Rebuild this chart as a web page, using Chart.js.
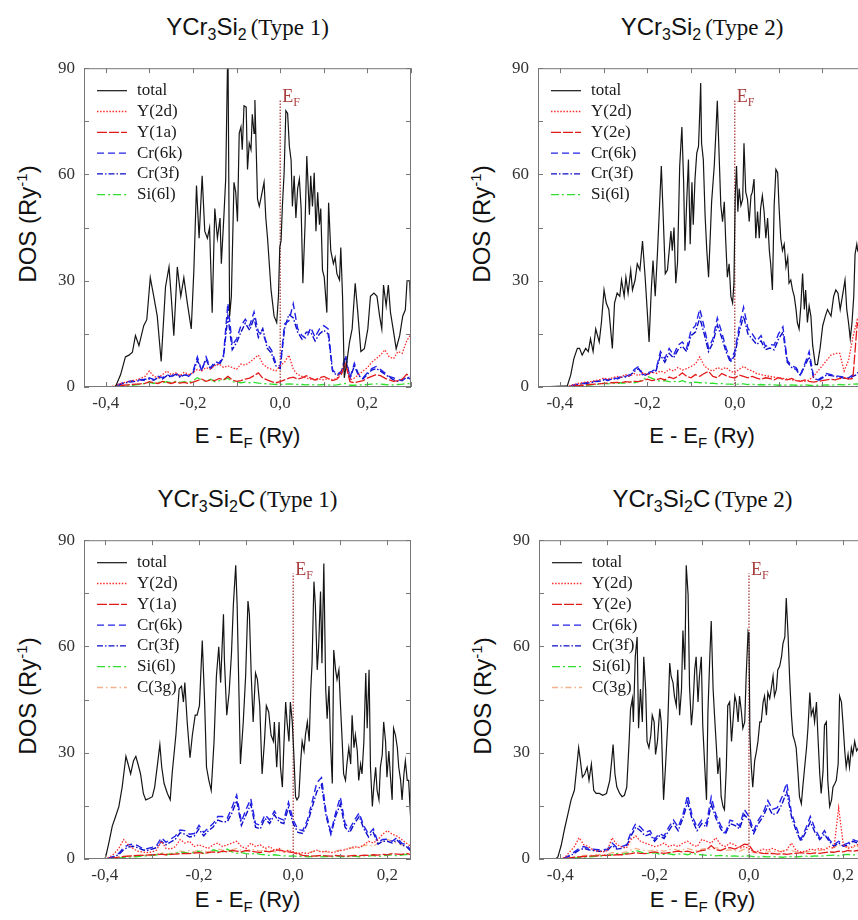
<!DOCTYPE html>
<html>
<head>
<meta charset="utf-8">
<script src="https://cdn.jsdelivr.net/npm/chart.js@4.4.0/dist/chart.umd.min.js"></script>
<style>
  body { margin: 0; width: 858px; height: 920px; overflow: hidden; background: #fff; position: relative; }
  .ttl { position: absolute; text-align: center; line-height: 30px; white-space: nowrap; color: #111; }
  .ss { font-family: "Liberation Sans", Arial, sans-serif; font-size: 24px; }
  .sf { font-family: "Liberation Serif", "Times New Roman", serif; font-size: 23px; }
  .ttl sub { font-size: 16px; line-height: 0; vertical-align: -5px; }
  .xt { position: absolute; text-align: center; white-space: nowrap; font-family: "Liberation Sans", Arial, sans-serif; font-size: 22px; line-height: 28px; color: #111; }
  .xt sub { font-size: 15px; line-height: 0; vertical-align: -5px; }
  .yt { position: absolute; width: 200px; text-align: center; white-space: nowrap; font-family: "Liberation Sans", Arial, sans-serif; font-size: 24px; line-height: 30px; color: #111; transform: rotate(-90deg); }
  .yt sup { font-size: 15px; line-height: 0; vertical-align: 9px; }
  canvas { position: absolute; }
</style>
</head>
<body>

<div class="ttl" style="left:84px;top:12px;width:327px"><span class="ss">YCr<sub>3</sub>Si<sub>2</sub></span> <span class="sf">(Type 1)</span></div>
<div class="ttl" style="left:538px;top:12px;width:328px"><span class="ss">YCr<sub>3</sub>Si<sub>2</sub></span> <span class="sf">(Type 2)</span></div>
<div class="ttl" style="left:84px;top:484px;width:327px"><span class="ss">YCr<sub>3</sub>Si<sub>2</sub>C</span> <span class="sf">(Type 1)</span></div>
<div class="ttl" style="left:539px;top:484px;width:327px"><span class="ss">YCr<sub>3</sub>Si<sub>2</sub>C</span> <span class="sf">(Type 2)</span></div>

<div class="yt" style="left:-72px;top:209px">DOS (Ry<sup>-1</sup>)</div>
<div class="yt" style="left:382px;top:209px">DOS (Ry<sup>-1</sup>)</div>
<div class="yt" style="left:-72px;top:681px">DOS (Ry<sup>-1</sup>)</div>
<div class="yt" style="left:383px;top:681px">DOS (Ry<sup>-1</sup>)</div>

<div class="xt" style="left:84px;top:422px;width:327px">E - E<sub>F</sub> (Ry)</div>
<div class="xt" style="left:538px;top:422px;width:328px">E - E<sub>F</sub> (Ry)</div>
<div class="xt" style="left:84px;top:886px;width:327px">E - E<sub>F</sub> (Ry)</div>
<div class="xt" style="left:539px;top:886px;width:327px">E - E<sub>F</sub> (Ry)</div>

<script>
// ---- axis ticks ----
const xTicksA = [-0.4, -0.3, -0.2, -0.1, 0, 0.1, 0.2, 0.3];
const xTicksB = [-0.4, -0.3, -0.2, -0.1, 0, 0.1, 0.2];
const xTickText = ['-0,4', '', '-0,2', '', '0,0', '', '0,2', ''];
const yTicks = [0, 15, 30, 45, 60, 75, 90];

// energy grids for the partial DOS curves (Ry)
const gridA = [-0.45,-0.44,-0.43,-0.42,-0.41,-0.40,-0.39,-0.38,-0.37,-0.36,
  -0.35,-0.34,-0.33,-0.32,-0.31,-0.30,-0.29,-0.28,-0.27,-0.26,
  -0.25,-0.24,-0.23,-0.22,-0.21,-0.20,-0.19,-0.18,-0.17,-0.16,
  -0.15,-0.14,-0.13,-0.12,-0.11,-0.10,-0.09,-0.08,-0.07,-0.06,
  -0.05,-0.04,-0.03,-0.02,-0.01,0.00,0.01,0.02,0.03,0.04,
  0.05,0.06,0.07,0.08,0.09,0.10,0.11,0.12,0.13,0.14,
  0.15,0.16,0.17,0.18,0.19,0.20,0.21,0.22,0.23,0.24,
  0.25,0.26,0.27,0.28,0.29,0.30];
const gridB = [-0.44,-0.43,-0.42,-0.41,-0.40,-0.39,-0.38,-0.37,-0.36,-0.35,
  -0.34,-0.33,-0.32,-0.31,-0.30,-0.29,-0.28,-0.27,-0.26,-0.25,
  -0.24,-0.23,-0.22,-0.21,-0.20,-0.19,-0.18,-0.17,-0.16,-0.15,
  -0.14,-0.13,-0.12,-0.11,-0.10,-0.09,-0.08,-0.07,-0.06,-0.05,
  -0.04,-0.03,-0.02,-0.01,0.00,0.01,0.02,0.03,0.04,0.05,
  0.06,0.07,0.08,0.09,0.10,0.11,0.12,0.13,0.14,0.15,
  0.16,0.17,0.18,0.19,0.20,0.21,0.22,0.23,0.24,0.25];

// ---- YCr3Si2 (Type 1) ----
const p1TotE = [-0.45,-0.382,-0.378,-0.366,-0.355,-0.347,-0.339,-0.332,-0.324,-0.313,
  -0.306,-0.298,-0.290,-0.282,-0.273,-0.263,-0.255,-0.250,-0.244,-0.236,
  -0.228,-0.221,-0.213,-0.204,-0.198,-0.192,-0.186,-0.179,-0.173,-0.167,
  -0.162,-0.156,-0.150,-0.144,-0.138,-0.135,-0.129,-0.125,-0.121,-0.1195,
  -0.116,-0.112,-0.106,-0.102,-0.098,-0.094,-0.090,-0.087,-0.083,-0.078,
  -0.075,-0.071,-0.067,-0.064,-0.060,-0.058,-0.055,-0.052,-0.048,-0.043,
  -0.037,-0.033,-0.029,-0.021,-0.014,-0.008,-0.004,-0.001,0.002,0.005,
  0.009,0.013,0.017,0.021,0.025,0.028,0.032,0.036,0.040,0.044,
  0.048,0.052,0.057,0.061,0.067,0.070,0.074,0.078,0.082,0.086,
  0.090,0.093,0.097,0.101,0.107,0.111,0.116,0.122,0.126,0.130,
  0.136,0.139,0.143,0.147,0.153,0.159,0.165,0.172,0.178,0.185,
  0.193,0.201,0.207,0.215,0.222,0.228,0.233,0.237,0.243,0.248,
  0.253,0.259,0.266,0.274,0.281,0.287,0.291,0.297,0.300,0.304];
const p1TotD = [0,0,0,3.5,8.5,9.0,9.8,14.5,11.7,17.3,
  19.0,30.9,25.6,20.0,7.2,28.3,33.9,25.6,14.5,33.9,
  25.6,30.9,23.7,16.4,33.0,56.9,42.0,59.6,44.0,42.0,
  45.0,21.0,50.4,42.0,47.7,34.8,48.6,58.7,90,90,
  20,25.6,57.8,55.0,46.7,71.6,73.4,67.0,79.4,79.0,
  61.4,68.8,67.0,77.0,71.6,81.0,67.0,53.0,51.0,54.0,
  57.8,47.7,42.0,27.4,20.0,18.2,25.6,39.4,41.3,51.0,
  60.5,78.0,77.2,68.0,64.0,51.0,59.6,47.7,56.0,58.7,
  50.4,29.3,45.8,65.2,48.6,59.6,51.0,60.5,44.0,55.0,
  45.8,50.4,33.0,31.0,21.0,52.0,38.5,34.8,36.6,32.0,
  30.2,39.4,25.6,2.6,7.2,12.7,16.4,29.3,21.0,10.0,
  10.8,16.4,25.6,26.5,25.6,20.0,16.4,28.8,22.9,28.8,
  21.0,16.4,10.8,14.5,20.0,21.8,30.0,30.0,20.0,17.0];
const p1Y2d = [0,0,0,0,0,0,0,0.3,0.8,1.2,
  1.5,1.8,2.0,2.4,3.0,4.5,3.0,2.6,3.5,4.5,
  3.5,4.0,3.2,4.2,3.5,4.0,5.0,4.5,5.5,5.0,
  6.0,6.5,5.5,6.0,5.5,5.0,6.5,6.2,7.0,8.0,
  9.0,6.5,5.5,5.0,4.5,6.0,7.0,9.0,5.0,3.5,
  3.0,2.5,2.2,2.0,2.2,2.0,2.4,2.0,2.4,4.5,
  7.0,2.0,2.5,3.5,4.5,5.5,7.0,8.0,9.0,10.5,
  8.5,8.0,10.0,9.5,13.0,15.0];
const p1Y1a = [0,0,0,0,0,0,0,0.1,0.3,0.5,
  0.6,0.7,0.8,0.9,1.0,1.5,1.2,1.0,1.6,1.3,
  1.0,1.4,1.1,1.3,1.0,1.4,1.8,2.2,1.6,2.0,
  1.8,2.4,2.0,3.0,2.0,1.6,1.8,2.2,2.5,3.2,
  4.0,2.5,2.0,1.5,1.2,1.5,2.0,2.5,2.8,2.2,
  2.6,3.2,2.5,2.0,2.6,3.0,2.4,1.8,2.2,3.5,
  6.5,1.5,1.2,1.5,1.8,2.5,3.0,3.5,3.2,2.5,
  2.0,1.6,1.8,2.2,3.6,3.0];
const p1Cr6k = [0,0,0,0,0,0,0,0.2,0.7,1.2,
  1.5,1.7,1.8,2.1,1.8,2.6,2.1,3.0,2.6,3.5,
  3.0,4.0,3.0,3.7,3.0,4.4,8.5,4.4,8.5,5.3,
  7.2,6.7,9.0,23.7,11.8,13.6,17.3,19.1,17.3,21.2,
  15.5,15.0,12.2,10.4,6.7,5.8,17.8,18.7,23.5,16.5,
  14.5,13.6,16.8,14.1,16.4,17.3,16.4,4.9,3.5,4.4,
  9.0,2.6,6.7,3.5,2.6,4.0,5.2,5.8,4.9,4.0,
  3.0,2.6,2.1,1.8,3.0,2.1];
const p1Cr3f = [0,0,0,0,0,0,0,0.1,0.5,1.0,
  1.3,1.5,1.6,1.9,2.2,2.3,1.9,2.7,2.3,3.2,
  2.8,3.6,2.8,3.4,3.3,4.0,7.5,5.0,7.8,5.0,
  6.5,6.2,8.5,20.0,10.5,12.5,15.5,18.0,16.0,19.5,
  14.0,16.5,11.0,9.5,6.0,5.2,16.5,20.5,19.5,15.5,
  13.5,15.5,15.5,13.0,15.0,16.0,15.0,4.5,3.2,4.0,
  8.0,2.3,6.0,3.2,2.3,3.6,4.8,5.2,4.5,3.6,
  2.8,2.0,1.6,2.0,2.7,2.0];
const p1Si = [0,0,0,0,0,0,0,0,0.2,0.3,
  0.4,0.5,0.6,0.8,1.0,1.3,1.0,1.4,1.2,1.5,
  1.2,1.6,1.3,1.5,1.3,1.8,2.6,2.0,1.6,2.2,
  1.5,1.8,2.0,2.5,1.5,1.4,1.2,1.4,1.2,1.3,
  1.1,1.0,0.9,0.8,0.7,0.7,0.8,0.9,0.8,0.7,
  0.7,0.6,0.7,0.6,0.6,0.7,0.6,0.5,0.6,0.8,
  1.0,0.5,0.5,0.6,0.6,0.7,0.8,0.9,0.8,0.7,
  0.6,0.6,0.7,0.8,1.0,0.9];

// ---- YCr3Si2 (Type 2) ----
const p2TotE = [-0.45,-0.383,-0.375,-0.368,-0.360,-0.355,-0.349,-0.341,-0.335,-0.330,
  -0.324,-0.318,-0.310,-0.305,-0.299,-0.294,-0.288,-0.280,-0.275,-0.269,
  -0.263,-0.259,-0.253,-0.249,-0.244,-0.238,-0.234,-0.228,-0.223,-0.217,
  -0.211,-0.205,-0.200,-0.196,-0.191,-0.187,-0.182,-0.177,-0.172,-0.168,
  -0.163,-0.159,-0.154,-0.150,-0.146,-0.143,-0.139,-0.135,-0.131,-0.126,
  -0.121,-0.117,-0.114,-0.110,-0.106,-0.102,-0.098,-0.095,-0.091,-0.087,
  -0.083,-0.080,-0.078,-0.076,-0.072,-0.068,-0.064,-0.060,-0.056,-0.053,
  -0.047,-0.043,-0.040,-0.036,-0.032,-0.028,-0.024,-0.021,-0.017,-0.013,
  -0.009,-0.005,-0.002,0.001,0.004,0.007,0.010,0.014,0.018,0.021,
  0.025,0.029,0.033,0.037,0.040,0.044,0.048,0.052,0.056,0.059,
  0.063,0.067,0.071,0.075,0.079,0.082,0.086,0.090,0.094,0.098,
  0.101,0.105,0.109,0.113,0.117,0.121,0.124,0.128,0.132,0.136,
  0.140,0.143,0.147,0.151,0.155,0.159,0.162,0.166,0.170,0.174,
  0.178,0.184,0.189,0.195,0.201,0.207,0.212,0.220,0.226,0.231,
  0.236,0.241,0.246,0.252,0.256,0.260,0.264,0.268,0.272,0.275,
  0.279,0.281,0.290,0.300];
const p2TotD = [0,0.3,3.5,8.0,10.9,10.9,9.0,10.9,10.0,13.6,
  10.0,16.4,12.7,18.2,27.4,23.7,21.9,10.9,23.7,26.5,
  25.6,30.2,25.6,31.0,26.5,33.0,27.4,30.2,34.8,33.0,
  41.2,31.0,21.0,12.7,27.4,35.7,25.6,37.5,51.3,62.4,
  45.8,32.0,33.0,38.5,44.0,38.5,45.0,29.3,35.0,62.4,
  73.4,57.8,38.5,52.3,64.2,40.3,57.8,45.8,58.7,66.0,
  67.9,78.0,85.8,68.8,64.2,48.6,38.5,31.0,43.0,52.3,
  62.4,72.5,80.8,66.0,51.3,46.7,52.3,42.0,31.0,34.8,
  25.6,23.7,29.3,54.0,62.4,49.5,56.0,51.3,53.0,68.8,
  55.0,53.0,46.7,54.0,55.0,58.7,42.0,49.5,42.0,50.4,
  54.0,49.5,42.0,47.7,38.5,34.8,27.4,51.3,61.4,60.5,
  51.3,42.0,38.5,40.3,33.9,36.6,29.3,30.2,27.4,25.6,
  21.9,18.2,16.4,22.9,32.0,21.9,27.4,18.2,22.9,20.0,
  11.8,6.3,6.3,10.9,17.3,20.0,21.9,20.0,25.6,27.4,
  26.5,21.9,25.6,30.2,21.9,18.2,13.6,18.2,25.6,37.5,
  40.3,38.5,36.0,31.0];
const p2Y2d = [0,0,0,0,0,0,0,0.2,0.6,1.0,
  1.2,1.4,1.5,1.8,2.0,2.5,2.2,2.6,3.0,2.8,
  3.5,3.0,3.8,3.2,4.0,3.5,4.2,3.8,4.5,4.0,
  5.0,4.5,5.5,4.8,5.2,5.8,6.5,8.5,6.0,5.0,
  4.5,5.5,5.0,5.5,4.5,4.0,5.0,5.8,5.0,4.5,
  3.8,3.5,3.2,3.0,2.8,2.6,2.4,2.2,2.0,1.8,
  1.8,1.6,2.0,3.0,4.5,6.0,7.5,9.0,9.5,9.5,
  4.5,7.5,14.0,19.0,17.0,15.0];
const p2Y2e = [0,0,0,0,0,0,0,0.1,0.3,0.4,
  0.5,0.6,0.7,0.8,0.9,1.0,1.1,1.2,1.3,1.2,
  1.5,1.4,1.6,1.5,1.8,2.2,1.8,2.0,2.4,2.0,
  2.8,2.4,3.0,4.0,3.0,2.6,3.5,3.0,3.8,4.4,
  3.0,2.6,3.8,3.2,2.8,2.5,3.4,3.0,2.6,3.0,
  2.5,2.2,2.6,2.4,2.0,2.6,2.2,2.0,2.4,1.8,
  1.6,2.0,1.6,1.4,1.6,1.8,2.0,2.2,2.0,2.4,
  2.6,2.2,2.4,18.0,16.0,13.0];
const p2Cr6k = [0,0,0,0,0,0,0,0.2,0.5,0.8,
  1.0,1.2,1.4,1.6,1.8,2.2,2.0,2.6,2.4,3.0,
  3.0,3.5,4.9,5.8,3.5,4.0,4.4,5.0,10.0,8.0,
  10.9,9.0,11.8,12.7,11.0,16.0,17.3,22.0,17.0,11.0,
  13.6,19.5,15.5,11.0,7.5,10.0,17.0,22.5,16.5,15.0,
  13.0,14.5,11.5,12.0,11.8,15.0,17.0,7.5,6.0,5.5,
  3.5,6.5,10.0,3.0,2.0,2.8,3.8,3.5,3.2,3.0,
  2.8,2.6,3.4,4.0,3.8,3.5];
const p2Cr3f = [0,0,0,0,0,0,0,0.1,0.4,0.7,
  0.9,1.0,1.2,1.5,1.6,2.0,1.8,2.4,2.2,2.8,
  2.8,3.2,4.4,5.2,3.2,3.6,4.0,4.6,9.0,7.0,
  9.5,8.2,10.5,11.5,10.0,14.5,15.5,19.5,15.0,10.0,
  12.5,17.5,14.0,10.0,7.0,9.0,15.5,20.0,15.0,13.5,
  12.0,13.0,10.5,11.0,10.5,13.5,15.5,7.0,5.5,5.0,
  3.2,6.0,8.5,2.7,1.8,2.5,3.4,3.2,3.0,2.7,
  2.5,2.4,3.0,3.6,3.4,3.2];
const p2Si = [0,0,0,0,0,0,0,0,0.2,0.3,
  0.4,0.5,0.6,0.7,0.8,1.0,0.9,1.1,1.0,1.2,
  1.1,1.3,1.2,1.5,2.0,3.0,2.5,2.0,1.6,1.8,
  1.5,1.6,1.4,1.8,1.3,1.2,1.4,1.2,1.3,1.0,
  1.1,0.9,1.0,0.8,0.8,0.7,0.8,0.9,0.7,0.8,
  0.6,0.7,0.6,0.7,0.6,0.5,0.6,0.5,0.6,0.5,
  0.5,0.6,0.5,0.4,0.5,0.5,0.6,0.5,0.6,0.7,
  0.6,0.7,0.8,0.9,0.8,0.8];

// ---- YCr3Si2C (Type 1) ----
const p3TotE = [-0.444,-0.400,-0.398,-0.391,-0.384,-0.377,-0.370,-0.363,-0.355,-0.350,
  -0.345,-0.339,-0.334,-0.329,-0.324,-0.318,-0.313,-0.306,-0.299,-0.294,
  -0.288,-0.283,-0.279,-0.274,-0.267,-0.261,-0.257,-0.249,-0.242,-0.237,
  -0.233,-0.230,-0.225,-0.219,-0.214,-0.208,-0.204,-0.199,-0.193,-0.188,
  -0.184,-0.179,-0.174,-0.168,-0.163,-0.158,-0.154,-0.148,-0.146,-0.141,
  -0.136,-0.131,-0.127,-0.122,-0.119,-0.115,-0.112,-0.106,-0.101,-0.096,
  -0.093,-0.089,-0.085,-0.080,-0.076,-0.071,-0.066,-0.061,-0.057,-0.052,
  -0.047,-0.042,-0.040,-0.035,-0.030,-0.027,-0.023,-0.020,-0.016,-0.013,
  -0.009,-0.006,-0.002,0.001,0.005,0.008,0.012,0.016,0.019,0.023,
  0.026,0.030,0.034,0.037,0.040,0.044,0.047,0.051,0.054,0.058,
  0.061,0.065,0.069,0.072,0.076,0.079,0.083,0.086,0.090,0.093,
  0.097,0.100,0.104,0.107,0.111,0.114,0.118,0.122,0.125,0.129,
  0.132,0.136,0.139,0.143,0.146,0.150,0.154,0.157,0.161,0.164,
  0.168,0.171,0.175,0.178,0.182,0.185,0.189,0.192,0.196,0.199,
  0.203,0.206,0.210,0.213,0.217,0.221,0.224,0.228,0.231,0.235,
  0.238,0.242,0.245,0.249,0.260];
const p3TotD = [0,0,0.6,4.7,9.3,12.0,14.8,20.3,29.0,26.6,
  24.0,27.7,29.0,26.6,24.0,18.5,16.7,17.1,17.6,20.3,
  26.8,32.3,25.9,21.3,18.5,16.7,24.0,35.0,48.0,48.8,
  44.3,49.8,38.7,28.6,35.0,40.6,40.6,43.3,61.7,44.3,
  25.9,22.2,19.4,33.2,51.6,59.9,49.8,69.1,56.2,40.6,
  47.0,58.0,71.8,82.9,71.8,46.0,26.8,38.7,51.6,72.8,
  69.1,51.6,38.7,52.5,50.7,43.3,24.0,33.2,43.3,41.5,
  35.0,33.2,38.7,25.9,38.7,25.9,20.3,31.4,44.3,38.7,
  33.2,44.3,38.7,30.5,17.6,16.7,17.6,27.7,33.2,30.5,
  35.0,38.7,33.2,47.0,55.3,78.3,71.8,53.4,59.9,75.5,
  55.3,83.4,47.9,39.6,48.8,33.2,21.3,59.0,53.4,50.7,
  53.4,44.3,33.2,24.0,22.2,26.8,31.4,26.8,40.6,31.4,
  35.0,30.5,22.2,26.8,24.0,33.2,52.5,36.9,53.4,25.9,
  14.8,20.3,25.9,19.4,16.7,25.9,29.5,38.7,33.2,23.1,
  30.5,24.0,16.7,36.9,35.0,31.4,25.9,22.2,16.7,24.0,
  27.7,22.2,22.2,12.0,10.0];
const p3Y2d = [0,0,0,0,0,0.5,1.5,3.0,5.5,4.0,
  3.0,2.2,2.0,1.8,2.0,2.5,5.0,3.0,2.8,3.5,
  5.5,4.5,5.0,3.5,4.0,3.5,3.0,4.0,4.5,3.5,
  4.0,4.5,5.0,3.5,3.0,4.5,3.5,4.0,3.0,3.5,
  2.5,3.0,2.0,2.5,2.0,1.6,1.8,1.5,2.0,2.5,
  2.0,2.2,1.8,2.0,2.4,2.6,3.0,3.5,3.2,4.0,
  5.0,4.5,5.5,7.0,8.0,7.0,6.5,5.5,4.5,3.5];
const p3Y1a = [0,0,0,0,0,0.1,0.3,0.5,0.7,0.8,
  0.9,1.0,1.0,1.1,1.2,1.2,1.4,1.2,1.3,1.4,
  1.5,1.6,1.5,1.7,1.8,1.6,1.8,2.0,1.8,2.2,
  2.0,2.4,2.2,2.0,2.4,2.2,2.0,1.8,2.2,2.0,
  2.4,2.6,2.2,2.0,1.8,1.4,1.0,0.9,0.8,0.9,
  1.0,0.9,0.8,1.0,0.9,0.8,0.9,1.0,0.9,1.1,
  1.0,1.2,1.1,1.3,1.2,1.5,1.4,1.3,1.6,1.2];
const p3Cr6k = [0,0,0,0,0,0.3,0.8,1.6,3.2,4.0,
  4.2,3.8,3.0,2.9,3.3,3.8,6.0,4.7,5.6,6.5,
  8.2,8.0,7.0,7.2,9.5,7.5,8.8,10.0,12.0,12.0,
  11.5,14.5,18.0,10.5,14.0,17.0,10.0,9.5,12.5,11.0,
  13.5,11.5,11.0,16.0,11.0,8.4,8.0,11.0,16.0,21.5,
  23.0,13.0,7.5,13.0,17.5,10.0,8.5,11.0,13.0,9.3,
  7.0,8.5,4.7,5.5,5.6,5.0,6.0,4.5,4.0,2.5];
const p3Cr3f = [0,0,0,0,0,0.2,0.6,1.3,2.6,3.4,
  3.6,3.2,2.6,2.4,2.8,3.2,5.0,4.0,4.8,5.6,
  7.4,7.0,6.2,6.5,8.5,6.5,8.0,9.0,11.0,10.5,
  10.5,13.0,16.5,9.5,12.5,15.5,9.0,8.5,11.5,10.0,
  12.5,10.5,10.0,14.5,10.0,7.5,7.2,10.0,14.5,19.0,
  21.0,12.0,7.0,12.0,15.5,9.0,7.5,10.0,12.0,8.5,
  6.2,7.5,4.2,5.0,5.0,4.5,5.4,4.0,3.5,2.2];
const p3Si = [0,0,0,0,0,0,0.2,0.3,0.4,0.5,
  0.6,0.7,0.8,0.9,1.0,1.2,1.5,1.2,1.4,1.6,
  2.0,1.8,1.6,1.8,2.2,1.5,1.8,2.6,2.2,2.0,
  2.8,2.0,1.6,1.8,1.5,1.4,1.6,1.3,1.2,1.0,
  1.2,1.0,0.9,0.8,0.9,0.7,0.8,0.6,0.7,0.8,
  0.6,0.7,0.6,0.8,0.7,0.6,0.7,0.8,0.6,0.9,
  0.8,1.0,0.7,0.9,1.0,1.2,0.9,1.1,1.3,1.0];
const p3C3g = [0,0,0,0,0,0,0.2,0.4,0.6,0.8,
  0.9,1.0,1.0,1.1,1.2,1.3,1.8,1.5,1.6,1.8,
  2.2,2.0,2.4,2.0,2.6,2.2,2.0,2.4,2.8,2.5,
  2.2,2.6,3.0,2.4,2.2,2.8,2.5,2.2,2.6,2.4,
  2.0,2.2,1.8,2.4,2.0,1.6,1.4,1.8,2.0,2.4,
  2.2,2.0,1.8,2.2,2.5,2.8,3.2,3.0,3.5,3.8,
  4.0,3.5,4.5,5.0,5.5,5.0,4.5,4.0,3.5,3.0];

// ---- YCr3Si2C (Type 2) ----
const p4TotE = [-0.445,-0.410,-0.405,-0.398,-0.391,-0.384,-0.377,-0.370,-0.365,-0.361,
  -0.358,-0.353,-0.348,-0.343,-0.339,-0.334,-0.329,-0.324,-0.317,-0.310,
  -0.302,-0.295,-0.291,-0.288,-0.284,-0.280,-0.274,-0.269,-0.264,-0.259,
  -0.254,-0.251,-0.247,-0.245,-0.241,-0.237,-0.234,-0.230,-0.226,-0.223,
  -0.219,-0.216,-0.212,-0.208,-0.205,-0.201,-0.198,-0.194,-0.189,-0.186,
  -0.181,-0.177,-0.172,-0.168,-0.165,-0.161,-0.158,-0.154,-0.151,-0.147,
  -0.143,-0.140,-0.136,-0.133,-0.129,-0.126,-0.122,-0.119,-0.115,-0.112,
  -0.108,-0.105,-0.101,-0.098,-0.094,-0.090,-0.087,-0.083,-0.080,-0.076,
  -0.073,-0.069,-0.066,-0.062,-0.059,-0.055,-0.052,-0.048,-0.045,-0.041,
  -0.037,-0.034,-0.030,-0.027,-0.023,-0.020,-0.016,-0.013,-0.009,-0.006,
  -0.002,0.000,0.002,0.005,0.008,0.012,0.016,0.019,0.023,0.026,
  0.030,0.033,0.037,0.040,0.044,0.047,0.051,0.054,0.058,0.061,
  0.065,0.069,0.072,0.076,0.079,0.083,0.086,0.090,0.093,0.097,
  0.100,0.104,0.107,0.111,0.114,0.118,0.122,0.125,0.129,0.132,
  0.136,0.139,0.143,0.146,0.150,0.153,0.157,0.160,0.164,0.167,
  0.171,0.175,0.178,0.182,0.185,0.189,0.192,0.196,0.199,0.203,
  0.206,0.210,0.213,0.217,0.220,0.224,0.228,0.232,0.240,0.250];
const p4TotD = [0,0,0.6,3.8,8.4,12.5,16.7,19.4,25.9,31.4,
  28.5,23.1,24.0,25.9,22.2,26.8,19.4,18.5,18.5,18.0,
  18.5,22.2,27.7,32.3,24.0,20.3,18.5,17.6,18.0,20.3,
  33.2,42.4,45.3,38.7,57.1,62.7,36.9,48.0,38.7,57.1,
  48.0,33.2,31.4,35.0,40.6,38.7,29.5,33.2,42.4,38.7,
  16.7,25.9,38.7,55.3,51.6,49.8,46.0,43.3,53.4,40.6,
  47.9,64.5,53.4,82.9,74.6,48.8,37.8,42.4,53.4,57.1,
  44.3,51.6,57.1,37.8,26.8,16.7,41.5,57.1,67.2,47.9,
  40.6,31.4,24.0,28.6,17.6,14.8,13.9,25.9,43.3,44.3,
  33.2,38.7,46.0,44.3,38.7,46.0,41.5,36.9,38.7,51.6,
  64.0,62.7,35.0,25.9,20.3,27.7,30.5,33.2,38.7,38.7,
  44.3,46.0,40.6,47.0,45.3,47.9,51.6,46.0,47.9,53.4,
  54.4,57.1,60.8,62.7,73.7,62.7,51.6,40.6,35.0,33.2,
  31.4,24.0,17.6,15.6,20.3,25.9,31.4,36.9,47.0,40.6,
  42.4,38.7,44.3,35.0,24.0,18.5,24.8,37.8,38.7,22.2,
  14.8,16.7,20.3,21.3,22.2,26.8,46.0,44.3,38.7,30.5,
  25.9,29.5,25.9,31.4,29.5,33.2,30.5,31.4,33.0,28.0];
const p4Y2d = [0,0,0,0,0,0.5,2.0,3.5,6.0,4.0,
  3.5,2.5,2.2,2.0,2.4,6.0,4.0,3.5,3.0,5.5,
  6.5,5.0,4.5,4.0,3.5,3.8,4.5,3.5,4.0,3.5,
  4.5,5.0,4.0,3.5,5.5,5.0,4.5,6.0,4.0,3.5,
  4.5,4.0,3.0,3.5,3.0,2.0,2.2,2.8,2.5,3.0,
  2.4,2.0,2.6,4.5,2.4,2.0,2.2,2.8,2.5,3.0,
  2.6,3.5,3.0,14.5,4.0,3.0,3.5,4.0,4.5,5.0];
const p4Y2e = [0,0,0,0,0,0.1,0.3,0.5,0.6,0.7,
  0.8,0.9,0.9,1.0,1.0,1.1,1.2,1.2,1.4,1.5,
  1.8,1.6,1.5,1.8,2.0,1.8,1.6,1.8,2.0,2.2,
  2.0,2.2,1.8,2.0,2.4,2.6,3.8,2.6,2.4,3.0,
  3.2,2.8,3.4,4.2,4.0,2.0,1.8,1.6,1.5,1.6,
  1.4,1.5,1.3,1.5,1.6,1.8,1.6,1.5,1.7,1.6,
  1.8,2.0,1.9,2.2,2.0,2.4,2.2,2.4,2.6,2.8];
const p4Cr6k = [0,0,0,0,0.1,0.4,1.0,2.0,3.0,3.5,
  3.0,2.8,2.6,2.6,2.8,4.5,3.2,3.5,4.0,7.5,
  10.0,9.0,7.5,8.0,5.6,7.2,6.5,9.0,11.0,9.0,
  12.5,18.0,12.0,9.0,11.0,10.0,17.5,12.5,9.5,7.5,
  11.0,10.5,9.3,14.0,12.0,8.0,11.0,13.0,16.5,14.0,
  14.5,17.5,21.5,13.0,9.0,5.5,8.5,12.0,8.5,6.0,
  8.0,5.5,4.0,5.0,4.0,4.5,5.5,5.0,5.5,6.0];
const p4Cr3f = [0,0,0,0,0,0.3,0.8,1.6,2.5,3.0,
  2.6,2.4,2.2,2.2,2.4,3.8,2.8,3.0,3.5,6.5,
  9.0,8.0,6.5,7.0,5.0,6.5,5.8,8.0,10.0,8.0,
  11.5,16.0,11.0,8.0,10.0,9.0,15.5,11.5,8.5,7.0,
  10.0,9.5,8.5,12.5,11.0,7.2,10.0,12.0,15.0,12.5,
  13.0,15.5,19.0,12.0,8.0,5.0,7.5,10.5,7.5,5.5,
  7.0,5.0,3.6,4.5,3.6,4.0,5.0,4.5,5.0,5.5];
const p4Si = [0,0,0,0,0,0,0.2,0.3,0.4,0.5,
  0.6,0.7,0.8,0.9,1.0,1.2,1.5,1.3,1.6,1.9,
  2.4,2.0,1.5,1.6,1.8,1.4,1.3,1.5,1.2,1.4,
  1.5,1.2,1.6,1.3,1.2,1.0,1.1,0.9,1.0,0.9,
  0.8,0.9,0.7,0.8,0.9,0.7,0.6,0.7,0.6,0.7,
  0.6,0.5,0.6,0.7,0.6,0.7,0.8,0.7,0.9,0.8,
  0.9,1.0,1.1,0.9,1.2,1.3,1.1,1.4,1.5,1.6];
const p4C3g = [0,0,0,0,0,0,0.2,0.5,0.8,1.0,
  1.0,1.1,1.2,1.2,1.4,1.8,1.6,1.7,2.0,2.6,
  3.0,2.6,2.4,2.2,2.6,2.4,2.2,2.6,2.8,2.4,
  2.6,3.0,2.6,2.4,2.8,3.0,2.6,3.2,2.8,2.4,
  2.6,2.4,2.2,2.8,2.4,1.8,1.6,1.8,2.0,2.2,
  2.0,2.2,2.6,2.4,2.0,1.8,2.0,2.2,2.6,2.4,
  2.8,3.0,3.2,4.0,3.6,3.4,3.2,3.6,3.8,4.0];

// Fermi level marker (vertical line from 0 up to the top value)
const efE = [0, 0];
const efTopA = [0, 81];
const efTopB = [0, 80.6];

// ---- styles ----
const STY = {
  total: { color: '#151515', dash: [], width: 1.2 },
  y2d:   { color: '#ff2a2a', dash: [1.5, 1.6], width: 1.3 },
  ysol:  { color: '#e31a1a', dash: [10, 2], width: 1.3 },
  cr6k:  { color: '#2222e8', dash: [7, 4], width: 1.4 },
  cr3f:  { color: '#0c0cc8', dash: [6, 2, 1.5, 2], width: 1.4 },
  si:    { color: '#2ee02e', dash: [8, 3, 2, 3], width: 1.3 },
  c3g:   { color: '#f2b08c', dash: [6, 3, 1.5, 3], width: 1.3 },
  ef:    { color: '#a83232', dash: [1.5, 1.5], width: 1.2 }
};

function line(label, st, xs, ys) {
  return {
    label: label,
    data: xs.map((x, i) => ({ x: x, y: ys[i] })),
    borderColor: st.color,
    borderWidth: st.width,
    borderDash: st.dash,
    pointRadius: 0,
    fill: false,
    tension: 0
  };
}

// frame, inward ticks, legend inside the plot and the E_F label
const decor = {
  id: 'decor',
  afterDatasetsDraw(chart) {
    const ctx = chart.ctx, a = chart.chartArea;
    const sx = chart.scales.x, sy = chart.scales.y;
    ctx.save();
    ctx.setLineDash([]);
    ctx.strokeStyle = '#777';
    ctx.lineWidth = 1;
    ctx.strokeRect(a.left + 0.5, a.top + 0.5, a.width - 1, a.height - 1);
    ctx.beginPath();
    sx.ticks.forEach(t => {
      const px = Math.round(sx.getPixelForValue(t.value)) + 0.5;
      ctx.moveTo(px, a.bottom); ctx.lineTo(px, a.bottom - 5);
      ctx.moveTo(px, a.top); ctx.lineTo(px, a.top + 5);
    });
    sy.ticks.forEach(t => {
      const py = Math.round(sy.getPixelForValue(t.value)) + 0.5;
      ctx.moveTo(a.left, py); ctx.lineTo(a.left + 5, py);
      ctx.moveTo(a.right, py); ctx.lineTo(a.right - 5, py);
    });
    ctx.stroke();

    const items = chart.data.datasets.filter(d => !d.label.startsWith('_'));
    ctx.font = '17px "Liberation Serif"';
    ctx.textBaseline = 'middle';
    items.forEach((d, i) => {
      const yy = a.top + 22.5 + i * 20.8;
      ctx.strokeStyle = d.borderColor;
      ctx.lineWidth = d.borderWidth;
      ctx.setLineDash(d.borderDash);
      ctx.beginPath();
      ctx.moveTo(a.left + 13, yy);
      ctx.lineTo(a.left + 43, yy);
      ctx.stroke();
      ctx.fillStyle = '#1a1a1a';
      ctx.fillText(d.label, a.left + 53, yy);
    });

    const ef = chart.data.datasets.find(d => d.label === '_ef');
    const ex = sx.getPixelForValue(0) + 2;
    const ey = sy.getPixelForValue(ef.data[1].y) + 2;
    ctx.fillStyle = '#a83c3c';
    ctx.textBaseline = 'alphabetic';
    ctx.font = '18px "Liberation Serif"';
    ctx.fillText('E', ex, ey);
    const w = ctx.measureText('E').width;
    ctx.font = '12px "Liberation Serif"';
    ctx.fillText('F', ex + w, ey + 4);
    ctx.restore();
  }
};

function makePanel(p) {
  const cv = document.createElement('canvas');
  const W = 44 + p.w + 8, H = 12 + 326 + 32;
  cv.width = W; cv.height = H;
  cv.style.left = (p.left - 44) + 'px';
  cv.style.top = (p.top - 12) + 'px';
  cv.style.width = W + 'px';
  cv.style.height = H + 'px';
  document.body.appendChild(cv);

  const tickFont = { family: '"Liberation Serif"', size: 17 };
  new Chart(cv, {
    type: 'line',
    data: { datasets: p.datasets },
    options: {
      responsive: false,
      animation: false,
      events: [],
      layout: { padding: { top: 12, right: 8, left: 0, bottom: 0 } },
      plugins: { legend: { display: false }, tooltip: { enabled: false } },
      scales: {
        x: {
          type: 'linear', min: p.xMin, max: p.xMax,
          grid: { display: false, drawTicks: false },
          border: { display: false },
          afterBuildTicks: s => { s.ticks = p.xTicks.map(v => ({ value: v })); },
          afterFit: s => { s.height = 32; },
          ticks: {
            autoSkip: false, maxRotation: 0, padding: 6, color: '#333', font: tickFont,
            callback: (v, i) => xTickText[i]
          }
        },
        y: {
          type: 'linear', min: 0, max: 90,
          grid: { display: false, drawTicks: false },
          border: { display: false },
          afterBuildTicks: s => { s.ticks = yTicks.map(v => ({ value: v })); },
          afterFit: s => { s.width = 44; },
          ticks: {
            autoSkip: false, padding: 9, color: '#333', font: tickFont,
            callback: v => (v % 30 === 0 ? String(v) : '')
          }
        }
      }
    },
    plugins: [decor]
  });
}

makePanel({
  left: 84, top: 61, w: 327, xMin: -0.45, xMax: 0.30, xTicks: xTicksA,
  datasets: [
    line('total', STY.total, p1TotE, p1TotD),
    line('Y(2d)', STY.y2d, gridA, p1Y2d),
    line('Y(1a)', STY.ysol, gridA, p1Y1a),
    line('Cr(6k)', STY.cr6k, gridA, p1Cr6k),
    line('Cr(3f)', STY.cr3f, gridA, p1Cr3f),
    line('Si(6l)', STY.si, gridA, p1Si),
    line('_ef', STY.ef, efE, efTopA)
  ]
});
makePanel({
  left: 538, top: 61, w: 328, xMin: -0.45, xMax: 0.30, xTicks: xTicksA,
  datasets: [
    line('total', STY.total, p2TotE, p2TotD),
    line('Y(2d)', STY.y2d, gridA, p2Y2d),
    line('Y(2e)', STY.ysol, gridA, p2Y2e),
    line('Cr(6k)', STY.cr6k, gridA, p2Cr6k),
    line('Cr(3f)', STY.cr3f, gridA, p2Cr3f),
    line('Si(6l)', STY.si, gridA, p2Si),
    line('_ef', STY.ef, efE, efTopA)
  ]
});
makePanel({
  left: 84, top: 533, w: 327, xMin: -0.444, xMax: 0.25, xTicks: xTicksB,
  datasets: [
    line('total', STY.total, p3TotE, p3TotD),
    line('Y(2d)', STY.y2d, gridB, p3Y2d),
    line('Y(1a)', STY.ysol, gridB, p3Y1a),
    line('Cr(6k)', STY.cr6k, gridB, p3Cr6k),
    line('Cr(3f)', STY.cr3f, gridB, p3Cr3f),
    line('Si(6l)', STY.si, gridB, p3Si),
    line('C(3g)', STY.c3g, gridB, p3C3g),
    line('_ef', STY.ef, efE, efTopB)
  ]
});
makePanel({
  left: 539, top: 533, w: 327, xMin: -0.445, xMax: 0.248, xTicks: xTicksB,
  datasets: [
    line('total', STY.total, p4TotE, p4TotD),
    line('Y(2d)', STY.y2d, gridB, p4Y2d),
    line('Y(2e)', STY.ysol, gridB, p4Y2e),
    line('Cr(6k)', STY.cr6k, gridB, p4Cr6k),
    line('Cr(3f)', STY.cr3f, gridB, p4Cr3f),
    line('Si(6l)', STY.si, gridB, p4Si),
    line('C(3g)', STY.c3g, gridB, p4C3g),
    line('_ef', STY.ef, efE, efTopB)
  ]
});
</script>
</body>
</html>
